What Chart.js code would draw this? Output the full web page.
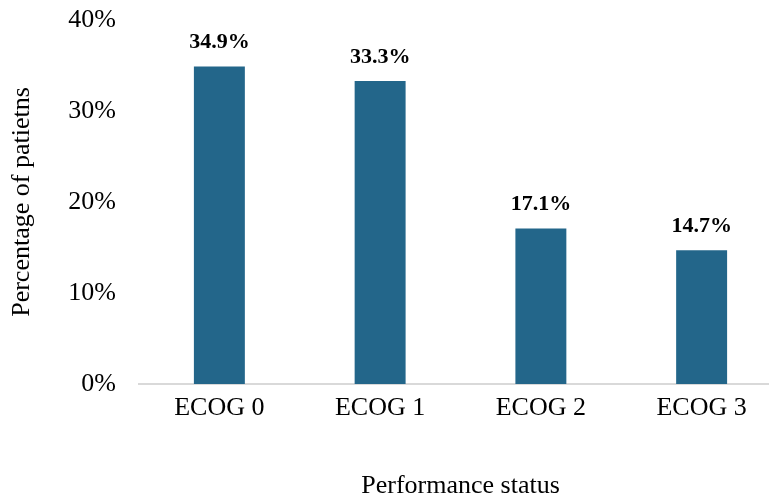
<!DOCTYPE html>
<html>
<head>
<meta charset="utf-8">
<script src="https://cdn.jsdelivr.net/npm/chart.js@4/dist/chart.umd.min.js"></script>
<style>
    html, body { margin: 0; padding: 0; background: #fff; overflow: hidden; }
    #wrap { width: 769px; height: 502px; overflow: hidden; }
</style>
</head>
<body>
<div id="wrap">
    <canvas id="ecogChart" width="800" height="502"></canvas>
</div>
<script>
const categories = ['ECOG 0', 'ECOG 1', 'ECOG 2', 'ECOG 3'];
const percentages = [34.9, 33.3, 17.1, 14.7];
const yTicks = [0, 10, 20, 30, 40];

const serif = "'Liberation Serif', 'Times New Roman', serif";

// Bold value labels above each bar (no datalabels plugin available offline)
const valueLabels = {
    id: 'valueLabels',
    afterDatasetsDraw(chart) {
        const ctx = chart.ctx;
        const meta = chart.getDatasetMeta(0);
        ctx.save();
        ctx.font = `bold 22px ${serif}`;
        ctx.fillStyle = '#000';
        ctx.textAlign = 'center';
        ctx.textBaseline = 'alphabetic';
        meta.data.forEach((bar, i) => {
            ctx.fillText(percentages[i].toFixed(1) + '%', bar.x, bar.y - 18);
        });
        ctx.restore();
    }
};

new Chart(document.getElementById('ecogChart'), {
    type: 'bar',
    data: {
        labels: categories,
        datasets: [{
            data: percentages,
            backgroundColor: '#23668a',
            borderWidth: 0,
            barPercentage: 0.317,
            categoryPercentage: 1.0
        }]
    },
    options: {
        responsive: false,
        animation: false,
        layout: { padding: { top: 20, right: 18, left: 0, bottom: 0 } },
        plugins: {
            legend: { display: false },
            tooltip: { enabled: false }
        },
        scales: {
            x: {
                grid: { display: false, drawTicks: false },
                border: { display: true, color: '#d9d9d9', width: 2 },
                ticks: { color: '#000', font: { family: serif, size: 26 }, padding: 9 },
                title: {
                    display: true,
                    text: 'Performance status',
                    color: '#000',
                    font: { family: serif, size: 26 },
                    padding: 0
                },
                afterFit: s => { s.height = 118; }
            },
            y: {
                min: 0,
                max: 40,
                grid: { display: false, drawTicks: false },
                border: { display: false },
                afterBuildTicks: s => { s.ticks = yTicks.map(v => ({ value: v })); },
                ticks: {
                    color: '#000',
                    font: { family: serif, size: 26 },
                    padding: 23,
                    callback: v => v + '%'
                },
                title: {
                    display: true,
                    text: 'Percentage of patietns',
                    color: '#000',
                    font: { family: serif, size: 26 },
                    padding: { top: 7, bottom: 0 }
                },
                afterFit: s => {
                    s.width = 139;
                    // let layout padding decide the plot top instead of label overflow
                    s.paddingTop = 0;
                    s.paddingBottom = 0;
                }
            }
        }
    },
    plugins: [valueLabels]
});
</script>
</body>
</html>
